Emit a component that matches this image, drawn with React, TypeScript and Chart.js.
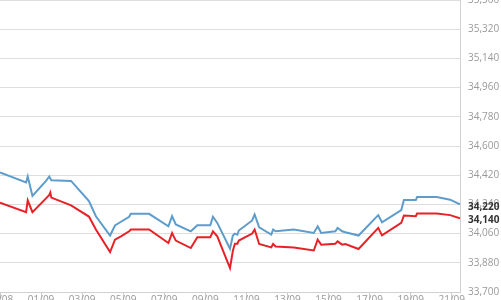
import React, { useEffect, useRef } from "react";
import { Chart, registerables } from "chart.js";

Chart.register(...registerables);

const xTickDays = [-2, 0, 2, 4, 6, 8, 10, 12, 14, 16, 18, 20];
const xTickLabels = ["30/08", "01/09", "03/09", "05/09", "07/09", "09/09", "11/09", "13/09", "15/09", "17/09", "19/09", "21/09"];
const yTickValues = [33700, 33880, 34060, 34240, 34420, 34600, 34780, 34960, 35140, 35320, 35500];

// days relative to 01/09
const dayOffsets = [
  -2.0, -0.73, -0.65, -0.42, 0.24, 0.4, 0.45, 0.5, 1.46, 2.33, 2.67, 3.36, 3.6, 3.89, 4.29, 4.37, 5.26,
  6.2, 6.38, 6.56, 7.29, 7.61, 8.24, 8.37, 8.58, 9.2, 9.34, 9.44, 9.56, 9.63, 10.28, 10.4, 10.62,
  11.21, 11.3, 11.42, 12.31, 13.28, 13.47, 13.64, 14.33, 14.44, 14.66, 14.82, 15.46, 16.42, 16.6,
  17.54, 17.67, 18.25, 18.31, 19.27, 19.92, 20.4,
];
const blueValues = [
  34437, 34375, 34412, 34292, 34385, 34412, 34400, 34389, 34385, 34260, 34167, 34048, 34110, 34133, 34164, 34182, 34182,
  34105, 34167, 34116, 34074, 34112, 34112, 34164, 34126, 33967, 34048, 34060, 34054, 34079, 34141, 34178, 34099,
  34054, 34085, 34074, 34085, 34064, 34105, 34064, 34074, 34095, 34074, 34068, 34048, 34174, 34130,
  34205, 34267, 34267, 34285, 34285, 34269, 34240,
];
const redValues = [
  34251, 34192, 34265, 34192, 34277, 34298, 34313, 34282, 34234, 34165, 34085, 33946, 34023, 34043, 34074, 34085, 34085,
  34002, 34064, 34017, 33971, 34037, 34037, 34074, 34043, 33847, 33954, 33998, 33998, 34017, 34060, 34085, 33996,
  33975, 33996, 33981, 33975, 33956, 34023, 33992, 33998, 34012, 33992, 33996, 33965, 34095, 34049,
  34126, 34172, 34167, 34184, 34184, 34174, 34155,
];
const lastLabels = ["34,220", "34,140"];
const lastLabelValues = [34220, 34140];

export default function App() {
  const ref = useRef<HTMLCanvasElement>(null);
  useEffect(() => {
    if (!ref.current) return;
    const lastLabelPlugin = {
      id: "lastLabels",
      afterDraw(chart: any) {
        const ctx = chart.ctx;
        ctx.save();
        ctx.font = 'bold 10px "Open Sans"';
        ctx.fillStyle = "#333";
        ctx.textAlign = "left";
        ctx.textBaseline = "middle";
        lastLabels.forEach((t, i) => {
          ctx.fillText(t, chart.chartArea.right + 8, chart.scales.y.getPixelForValue(lastLabelValues[i]));
        });
        ctx.restore();
      },
    };
    const chart = new Chart(ref.current, {
      type: "line",
      data: {
        datasets: [
          {
            data: dayOffsets.map((d, i) => ({ x: d, y: blueValues[i] })),
            borderColor: "#5e9ccc",
            borderWidth: 2,
            pointRadius: 0,
            tension: 0,
          },
          {
            data: dayOffsets.map((d, i) => ({ x: d, y: redValues[i] })),
            borderColor: "#e82127",
            borderWidth: 2,
            pointRadius: 0,
            tension: 0,
          },
        ],
      },
      options: {
        animation: false,
        responsive: false,
        layout: { padding: { left: 20, top: 20, right: 0, bottom: 0 } },
        plugins: { legend: { display: false }, tooltip: { enabled: false } },
        scales: {
          x: {
            type: "linear",
            min: -2,
            max: 20.4,
            afterBuildTicks: (s: any) => {
              s.ticks = xTickDays.map((v) => ({ value: v }));
            },
            afterFit: (s: any) => {
              s.height = 18;
            },
            grid: { display: true, drawOnChartArea: false, drawTicks: true, tickLength: 7, color: "#ccc" },
            border: { display: true, color: "#d0d0d0" },
            ticks: {
              padding: -5,
              maxRotation: 0,
              autoSkip: false,
              color: "#999",
              font: { family: "Open Sans", size: 10 },
              callback: (v: any) => {
                const i = xTickDays.indexOf(Number(v));
                return i >= 0 ? xTickLabels[i] : "";
              },
            },
          },
          y: {
            position: "right",
            min: 33700,
            max: 35500,
            afterBuildTicks: (s: any) => {
              s.ticks = yTickValues.map((v) => ({ value: v }));
            },
            afterFit: (s: any) => {
              s.width = 41;
            },
            grid: { color: "#dddddd", drawTicks: false },
            border: { display: true, color: "#d0d0d0" },
            ticks: {
              padding: 8,
              color: "#999",
              font: { family: "Open Sans", size: 10 },
              callback: (v: any) => Number(v).toLocaleString("en-US"),
            },
          },
        },
      },
      plugins: [lastLabelPlugin],
    });
    return () => chart.destroy();
  }, []);
  return (
    <div style={{ position: "fixed", left: 0, top: 0, width: 501, height: 300, overflow: "hidden", background: "#fff" }}>
      <canvas ref={ref} width={521} height={330} style={{ position: "absolute", left: -20, top: -20, width: 521, height: 330 }} />
    </div>
  );
}
